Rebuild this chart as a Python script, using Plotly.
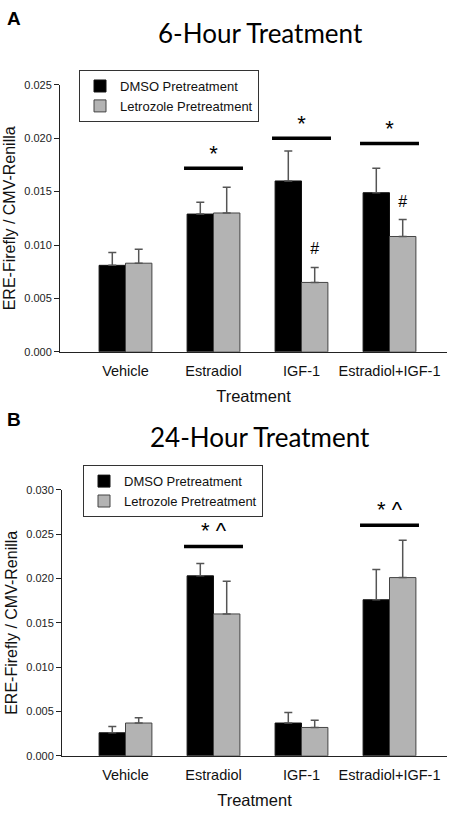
import plotly.graph_objects as go

categories = ["Vehicle", "Estradiol", "IGF-1", "Estradiol+IGF-1"]
series_names = ["DMSO Pretreatment", "Letrozole Pretreatment"]

# Panel A: 6-hour treatment
a_dmso = [0.0081, 0.0129, 0.0160, 0.0149]
a_dmso_err = [0.0012, 0.0011, 0.0028, 0.0023]
a_letro = [0.0083, 0.0130, 0.0065, 0.0108]
a_letro_err = [0.0013, 0.0024, 0.0014, 0.0016]
a_sig_cats = [1, 2, 3]
a_sig_level = [0.0172, 0.0200, 0.0195]
a_sig_label = ["*", "*", "*"]
a_hash_cats = [2, 3]
a_hash_y = [0.0095, 0.0139]

# Panel B: 24-hour treatment
b_dmso = [0.0026, 0.0203, 0.0037, 0.0176]
b_dmso_err = [0.0007, 0.0014, 0.0012, 0.0034]
b_letro = [0.0037, 0.0160, 0.0032, 0.0201]
b_letro_err = [0.0006, 0.0037, 0.0008, 0.0042]
b_sig_cats = [1, 3]
b_sig_level = [0.0236, 0.0260]
b_sig_label = ["* ^", "* ^"]

a_ticks = [0, 0.005, 0.010, 0.015, 0.020, 0.025]
b_ticks = [0, 0.005, 0.010, 0.015, 0.020, 0.025, 0.030]

W, H = 455, 818
BAR_W = 0.3
BLACK = "#000000"
GREY = "#b3b3b3"
ERR = "#555555"
FONT = "Liberation Sans, Arial, sans-serif"
TITLE_FONT = "Lato, Open Sans, sans-serif"

fig = go.Figure()

def add_panel(xa, ya, legend, dmso, dmso_err, letro, letro_err,
              sig_cats, sig_level, sig_label, sig_dy, hash_cats=None, hash_y=None):
    xs = list(range(len(categories)))
    fig.add_trace(go.Bar(
        x=[x - BAR_W / 2 for x in xs], y=dmso, width=BAR_W, name=series_names[0],
        marker=dict(color=BLACK, line=dict(color="#111111", width=1)),
        error_y=dict(type="data", array=dmso_err, arrayminus=[0] * 4, symmetric=False,
                     color=ERR, thickness=1.5, width=4),
        xaxis=xa, yaxis=ya, legend=legend))
    fig.add_trace(go.Bar(
        x=[x + BAR_W / 2 for x in xs], y=letro, width=BAR_W, name=series_names[1],
        marker=dict(color=GREY, line=dict(color="#444444", width=1)),
        error_y=dict(type="data", array=letro_err, arrayminus=[0] * 4, symmetric=False,
                     color=ERR, thickness=1.5, width=4),
        xaxis=xa, yaxis=ya, legend=legend))
    for c, lvl, lab in zip(sig_cats, sig_level, sig_label):
        fig.add_trace(go.Scatter(
            x=[c - 0.335, c + 0.335], y=[lvl, lvl], mode="lines",
            line=dict(color="black", width=3.5), showlegend=False, hoverinfo="skip",
            xaxis=xa, yaxis=ya))
        fig.add_trace(go.Scatter(
            x=[c], y=[lvl + sig_dy], mode="text", text=[lab],
            textfont=dict(family=FONT, size=22, color="black"),
            showlegend=False, hoverinfo="skip", xaxis=xa, yaxis=ya))
    if hash_cats:
        fig.add_trace(go.Scatter(
            x=[c + BAR_W / 2 for c in hash_cats], y=hash_y, mode="text", text=["#"] * len(hash_cats),
            textfont=dict(family=FONT, size=16, color="black"),
            showlegend=False, hoverinfo="skip", xaxis=xa, yaxis=ya))

add_panel("x", "y", "legend", a_dmso, a_dmso_err, a_letro, a_letro_err,
          a_sig_cats, a_sig_level, a_sig_label, 0.0012, a_hash_cats, a_hash_y)
add_panel("x2", "y2", "legend2", b_dmso, b_dmso_err, b_letro, b_letro_err,
          b_sig_cats, b_sig_level, b_sig_label, 0.0016)

def xaxis_cfg(left_px):
    return dict(
        domain=[left_px / W, 447 / W],
        range=[(left_px - 125.5) / 88, (447 - 125.5) / 88],
        tickvals=list(range(len(categories))), ticktext=categories,
        showline=True, linecolor="#222222", linewidth=1, ticks="",
        ticklabelstandoff=6, tickfont=dict(family=FONT, size=14.5, color="#111111"),
        showgrid=False, zeroline=False, fixedrange=True,
        title=dict(text="Treatment", font=dict(family=FONT, size=16.5, color="#111111"), standoff=12),
    )

def yaxis_cfg(top_px, bottom_px, rng, ticks, anchor):
    return dict(
        domain=[(H - bottom_px) / H, (H - top_px) / H], range=rng,
        tickvals=ticks, tickformat=".3f",
        showline=True, linecolor="#222222", linewidth=1, ticks="outside", ticklen=5,
        tickcolor="#222222", tickfont=dict(family=FONT, size=11, color="#222222"),
        showgrid=False, zeroline=False, fixedrange=True, anchor=anchor,
        title=dict(text="ERE-Firefly / CMV-Renilla", font=dict(family=FONT, size=16, color="#111111"),
                   standoff=4),
    )

legend_common = dict(xanchor="left", yanchor="top", bordercolor="#333333", borderwidth=1,
                     bgcolor="white", font=dict(family=FONT, size=13, color="#111111"),
                     tracegroupgap=0, itemwidth=30)

fig.update_layout(
    width=W, height=H, margin=dict(l=0, r=0, t=0, b=0),
    paper_bgcolor="white", plot_bgcolor="white", barmode="overlay",
    xaxis=dict(xaxis_cfg(60), anchor="y"),
    yaxis=yaxis_cfg(80, 351, [0, 0.025], a_ticks, "x"),
    xaxis2=dict(xaxis_cfg(62), anchor="y2"),
    yaxis2=yaxis_cfg(491, 761, [0, 0.030], b_ticks, "x2"),
    legend=dict(legend_common, x=79 / W, y=(H - 65) / H),
    legend2=dict(legend_common, x=83 / W, y=(H - 466) / H),
    showlegend=True,
    annotations=[
        dict(text="<b>A</b>", x=5 / W, y=(H - 13) / H, xref="paper", yref="paper",
             xanchor="left", yanchor="middle", showarrow=False,
             font=dict(family=FONT, size=19, color="black")),
        dict(text="6-Hour Treatment", x=260 / W, y=(H - 27) / H, xref="paper", yref="paper",
             xanchor="center", yanchor="middle", showarrow=False,
             font=dict(family=TITLE_FONT, size=26, color="black")),
        dict(text="<b>B</b>", x=5 / W, y=(H - 420) / H, xref="paper", yref="paper",
             xanchor="left", yanchor="middle", showarrow=False,
             font=dict(family=FONT, size=19, color="black")),
        dict(text="24-Hour Treatment", x=260 / W, y=(H - 437) / H, xref="paper", yref="paper",
             xanchor="center", yanchor="middle", showarrow=False,
             font=dict(family=TITLE_FONT, size=26, color="black")),
    ],
)

fig.write_html("out.html", config={"displayModeBar": False},
               post_script="document.body.style.margin='0';document.body.style.overflow='hidden';")
